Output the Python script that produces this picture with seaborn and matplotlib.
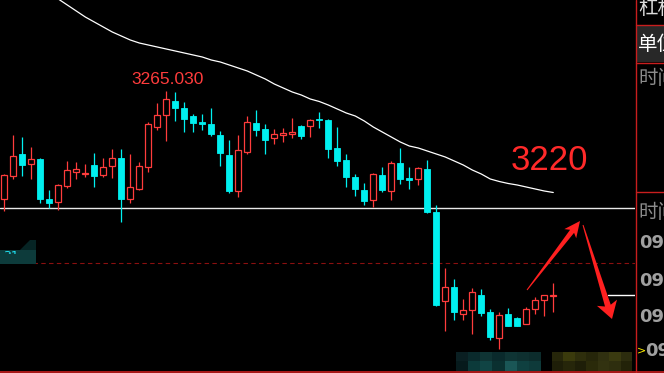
import numpy as np
import seaborn as sns
import matplotlib.pyplot as plt
from matplotlib.patches import Polygon, Rectangle

# one-minute candles
opens = [3243.37, 3248.09, 3252.43, 3250.37, 3251.43, 3243.43, 3242.77, 3246.09, 3248.89, 3248.37,
         3250.23, 3248.29, 3249.97, 3251.63, 3243.49, 3245.49, 3249.89, 3257.89, 3260.29, 3263.03,
         3261.63, 3260.03, 3258.83, 3258.43, 3256.23, 3252.23, 3245.09, 3252.77, 3258.63, 3257.43,
         3255.57, 3256.29, 3256.37, 3258.03, 3257.97, 3259.43, 3259.23, 3253.63, 3251.23, 3247.83,
         3245.23, 3243.17, 3248.23, 3244.97, 3250.63, 3247.63, 3247.49, 3249.43, 3240.83, 3222.97,
         3225.83, 3220.49, 3221.17, 3224.23, 3220.77, 3215.57, 3220.37, 3219.57, 3218.37, 3221.37,
         3223.17, 3223.97]
closes = [3248.17, 3252.03, 3250.29, 3251.37, 3243.49, 3242.69, 3246.17, 3249.23, 3249.43, 3248.69,
          3248.09, 3249.83, 3251.57, 3243.49, 3245.83, 3250.03, 3258.43, 3260.17, 3263.43, 3261.63,
          3259.43, 3258.63, 3258.43, 3256.43, 3252.69, 3245.03, 3253.17, 3258.77, 3257.29, 3255.29,
          3256.37, 3256.57, 3256.83, 3256.03, 3259.23, 3259.13, 3253.49, 3251.09, 3247.89, 3245.49,
          3243.09, 3248.43, 3245.23, 3250.63, 3247.49, 3247.29, 3249.63, 3240.89, 3222.29, 3225.77,
          3220.89, 3221.17, 3224.77, 3220.69, 3215.89, 3220.17, 3218.09, 3218.09, 3221.37, 3223.17,
          3224.17, 3224.23]
highs = [3248.43, 3256.23, 3255.83, 3253.83, 3251.63, 3245.23, 3246.43, 3251.03, 3250.83, 3250.43,
         3252.63, 3251.69, 3253.43, 3253.43, 3252.43, 3250.83, 3258.83, 3262.63, 3265.03, 3264.83,
         3262.83, 3260.43, 3260.43, 3261.63, 3257.03, 3255.23, 3256.23, 3260.03, 3261.23, 3258.43,
         3257.43, 3257.63, 3259.63, 3258.23, 3259.43, 3260.77, 3259.43, 3257.83, 3252.43, 3248.43,
         3246.63, 3248.63, 3249.83, 3251.03, 3253.63, 3249.83, 3249.83, 3251.23, 3242.23, 3229.69,
         3227.49, 3223.43, 3225.63, 3225.43, 3221.43, 3220.77, 3221.63, 3219.77, 3221.77, 3223.77,
         3224.23, 3226.63]
lows = [3241.09, 3247.37, 3248.09, 3247.49, 3242.69, 3241.57, 3241.29, 3245.69, 3247.43, 3247.89,
        3245.89, 3247.89, 3247.69, 3238.89, 3242.69, 3245.23, 3248.89, 3257.29, 3255.09, 3259.03,
        3256.83, 3256.83, 3257.23, 3256.03, 3250.09, 3244.63, 3243.89, 3252.43, 3256.03, 3252.43,
        3254.49, 3254.77, 3255.63, 3255.49, 3255.89, 3257.69, 3251.69, 3250.09, 3245.89, 3244.09,
        3242.29, 3241.83, 3244.83, 3243.29, 3246.49, 3245.43, 3246.17, 3240.69, 3222.09, 3217.09,
        3219.29, 3219.29, 3216.49, 3220.09, 3215.29, 3213.43, 3218.03, 3218.03, 3218.33, 3220.37,
        3219.97, 3220.83]

# moving average, from candle 6 onwards
ma_start = 6
ma_vals = [3283.43, 3282.23, 3281.03, 3279.83, 3278.83, 3277.83, 3276.83, 3276.03, 3275.23, 3274.63,
           3274.23, 3273.83, 3273.43, 3273.03, 3272.63, 3272.23, 3271.83, 3271.23, 3270.83, 3270.23,
           3269.63, 3269.03, 3268.23, 3267.43, 3266.43, 3265.63, 3264.83, 3264.23, 3263.43, 3262.93,
           3262.23, 3261.43, 3260.63, 3260.03, 3259.03, 3257.83, 3256.83, 3255.83, 3254.83, 3254.03,
           3253.63, 3253.03, 3252.43, 3251.83, 3251.03, 3250.23, 3249.23, 3248.43, 3247.43, 3246.93,
           3246.53, 3246.23, 3245.83, 3245.43, 3245.03, 3244.73]

high_label = "3265.030"
target_label = "3220"
white_level = 3241.63
dashed_level = 3230.63
marker_level = 3224.17

right_texts = ["杠杆率", "单位", "时间", "时间", "09:31", "09:32", "09:33", "09:34"]

RED = "#ff3c3c"
CYAN = "#00f0f0"
PANEL_RED = "#c81e1e"

sns.set_theme(style="dark", rc={"axes.facecolor": "black", "figure.facecolor": "black"})
plt.rcParams["font.family"] = ["Noto Sans CJK SC", "DejaVu Sans"]

fig = plt.figure(figsize=(6.64, 3.73), dpi=100)
ax = fig.add_axes([0, 0, 635 / 664, 1])
ax.set_facecolor("black")

x = np.arange(len(opens))
o = np.array(opens)
c = np.array(closes)
up = c >= o
cols = np.where(up, RED, CYAN)

ax.vlines(x, lows, highs, colors=cols, linewidth=0.9, zorder=2)
bottom = np.minimum(o, c)
height = np.maximum(np.abs(c - o), 0.25)
ax.bar(x[up], height[up], bottom=bottom[up], width=0.68, facecolor="black",
       edgecolor=RED, linewidth=0.9, zorder=3)
ax.bar(x[~up], height[~up], bottom=bottom[~up], width=0.68, facecolor=CYAN,
       edgecolor=CYAN, linewidth=0.6, zorder=3)

ma_x = np.arange(ma_start, ma_start + len(ma_vals))
sns.lineplot(x=ma_x, y=ma_vals, ax=ax, color="white", linewidth=0.9, zorder=4)

ax.axhline(white_level, color="#e8e8e8", linewidth=1.0, zorder=1)
ax.axhline(dashed_level, xmin=33 / 635, color="#8a1010", linewidth=0.8,
           linestyle=(0, (4, 3)), zorder=1)
ax.axhline(marker_level, xmin=608 / 635, color="white", linewidth=1.0, zorder=1)

ax.text(18.1, 3266.43, high_label, color=RED, fontsize=12.5, ha="center",
        va="baseline", family="Liberation Sans")
ax.text(60.6, 3251.2, target_label, color="#ff2a2a", fontsize=25, ha="center",
        va="center", family="Liberation Sans")

ax.set_xlim(-0.478, 70.08)
ax.set_ylim(3208.63, 3283.23)
ax.axis("off")

# overlay in pixel coordinates for the screen furniture
ov = fig.add_axes([0, 0, 1, 1])
ov.patch.set_alpha(0)
ov.axis("off")


def arrow(x0, y0, x1, y1, w0, w1, hw, hl):
    d = np.array([x1 - x0, y1 - y0], float)
    u = d / np.hypot(*d)
    n = np.array([-u[1], u[0]])
    tail = np.array([x0, y0])
    tip = np.array([x1, y1])
    base = tip - u * hl
    neck = base + u * 3
    pts = [tail + n * w0 / 2, neck + n * w1 / 2, base + n * hw / 2, tip,
           base - n * hw / 2, neck - n * w1 / 2, tail - n * w0 / 2]
    ov.add_patch(Polygon(pts, closed=True, color="#ff2020", lw=0, zorder=5))


arrow(527, 290, 580, 221, 1, 5, 15, 16)
arrow(583, 225, 612, 319, 1, 6, 21, 17)

# left price tag, mostly hidden under the lower band
ov.add_patch(Rectangle((0, 250), 36, 14, color="#0d3b3b", lw=0, zorder=1))
ov.add_patch(Polygon([(20, 250), (30, 240), (36, 240), (36, 250)], color="#062424", lw=0, zorder=1))
ov.text(3, 249.5, "31", color="#20e0f0", fontsize=9, va="top", ha="left",
        family="DejaVu Sans", zorder=2)
ov.add_patch(Rectangle((0, 253.5), 36, 10.5, color="#0d3b3b", lw=0, zorder=3))

# pixelated blocks at the bottom
teal = np.array([[[10, 31, 34], [10, 42, 44], [15, 52, 52], [10, 42, 44], [15, 52, 52], [14, 48, 48], [12, 44, 44]],
                 [[6, 26, 28], [12, 58, 58], [16, 68, 68], [10, 48, 48], [26, 86, 86], [15, 64, 64], [14, 58, 58]]]) / 255
olive = np.array([[[38, 38, 10], [58, 58, 12], [46, 46, 12], [38, 38, 10], [48, 48, 16], [58, 58, 16], [44, 44, 14]],
                  [[30, 30, 8], [38, 38, 10], [30, 30, 8], [42, 42, 10], [50, 50, 16], [46, 46, 14], [34, 34, 8]]]) / 255
ov.imshow(teal, extent=(456, 541, 371, 352), aspect="auto", interpolation="nearest")
ov.imshow(olive, extent=(552, 632, 371, 352), aspect="auto", interpolation="nearest")

# right-hand panel
ov.add_patch(Rectangle((636, 26), 28, 36, color="#282828", lw=0))
ov.axvline(635.5, color=PANEL_RED, linewidth=1.0)
for yy in (25, 63, 191.5):
    ov.plot([635.5, 664], [yy, yy], color=PANEL_RED, linewidth=1.0)
ov.plot([0, 664], [371.5, 371.5], color=PANEL_RED, linewidth=1.2)

ov.text(638, 8, right_texts[0], color="#dcdcdc", fontsize=14, va="center", ha="left")
ov.text(638, 44, right_texts[1], color="white", fontsize=14, va="center", ha="left")
ov.text(638, 79, right_texts[2], color="#8c8c8c", fontsize=14, va="center", ha="left")
ov.text(638, 212, right_texts[3], color="#8c8c8c", fontsize=14, va="center", ha="left")
for label, yy, xx in zip(right_texts[4:], (243, 281, 317, 351), (639, 639, 639, 645)):
    ov.text(xx, yy, label, color="#a0a0a0", fontsize=13, fontweight="bold",
            va="center", ha="left", family="DejaVu Sans")
ov.text(636.5, 350, ">", color="#ffee00", fontsize=8, va="center", ha="left", family="DejaVu Sans")

ov.set_xlim(0, 664)
ov.set_ylim(373, 0)

fig.savefig("out.png", dpi=100, facecolor="black")
